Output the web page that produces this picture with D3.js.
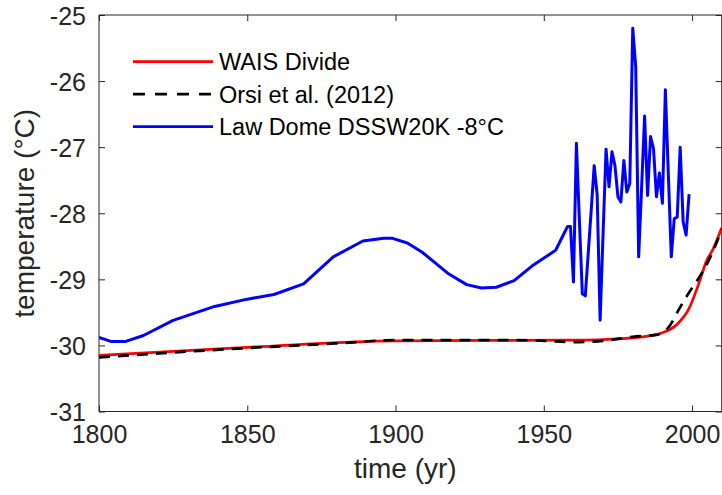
<!DOCTYPE html>
<html>
<head>
<meta charset="utf-8">
<script src="https://cdn.jsdelivr.net/npm/d3@7"></script>
<style>
  body { margin: 0; background: #fff; }
  svg { display: block; font-family: "Liberation Sans", Arial, sans-serif; }
</style>
</head>
<body>
<script>
// data
var xTicks = [1800, 1850, 1900, 1950, 2000];
var yTicks = [-31, -30, -29, -28, -27, -26, -25];
var seriesNames = ["WAIS Divide", "Orsi et al. (2012)", "Law Dome DSSW20K -8°C"];

var waisYear = [1800, 1850, 1900, 1960, 1975, 1985, 1990, 1995, 1999, 2002, 2005, 2007, 2010];
var waisTemp = [-30.15, -30.03, -29.93, -29.92, -29.9, -29.86, -29.81, -29.68, -29.44, -29.1, -28.71, -28.55, -28.22];

var orsiYear = [1800, 1850, 1880, 1900, 1920, 1940, 1950, 1960, 1970, 1980, 1988, 1992, 1996, 1999, 2002, 2006, 2010];
var orsiTemp = [-30.18, -30.04, -29.97, -29.92, -29.92, -29.92, -29.93, -29.95, -29.93, -29.87, -29.84, -29.73, -29.42, -29.2, -29.0, -28.68, -28.25];

var lawYear = [1800, 1804, 1809, 1815, 1825, 1839, 1850, 1859, 1869, 1879, 1889, 1896, 1899, 1904, 1909, 1918, 1924, 1929, 1934, 1940, 1946, 1954,
  1958, 1959, 1960, 1961, 1962, 1963, 1964, 1965, 1966, 1967, 1968, 1969, 1970, 1971, 1972, 1973, 1974, 1975, 1976, 1977, 1978, 1979,
  1980, 1981, 1982, 1983, 1984, 1985, 1986, 1987, 1988, 1989, 1990, 1991, 1992, 1993, 1994, 1995, 1996, 1997, 1998, 1999];
var lawTemp = [-29.88, -29.94, -29.94, -29.85, -29.62, -29.41, -29.3, -29.23, -29.07, -28.66, -28.42, -28.38, -28.38, -28.45, -28.59, -28.92, -29.08, -29.13, -29.12, -29.02, -28.8, -28.56,
  -28.2, -28.2, -29.04, -26.94, -28.1, -29.22, -29.25, -28.6, -27.95, -27.28, -27.72, -29.62, -28.3, -27.03, -27.6, -27.07, -27.28, -27.75, -27.83, -27.2, -27.68, -27.55,
  -25.2, -25.78, -28.66, -27.6, -26.53, -27.73, -26.84, -27.02, -27.75, -27.39, -27.85, -26.13, -27.4, -28.66, -28.08, -28.06, -27.0, -28.13, -28.33, -27.71];

var w = 722, h = 495;
var pLeft = 99, pRight = 721.7, pTop = 15, pBottom = 411.5;

var svg = d3.select("body").append("svg")
  .attr("width", w)
  .attr("height", h);

var x = d3.scaleLinear().domain([1800, 2010]).range([pLeft, pRight]);
var y = d3.scaleLinear().domain([-31, -25]).range([pBottom, pTop]);

var axisColor = "#262626";
var plainFormat = function(d){ return String(d); };

//軸
var xAxis = svg.append("g")
  .attr("transform", "translate(0," + pBottom + ")")
  .call(d3.axisBottom(x).tickValues(xTicks).tickSize(-6).tickPadding(14).tickFormat(plainFormat));
var xAxisTop = svg.append("g")
  .attr("transform", "translate(0," + pTop + ")")
  .call(d3.axisTop(x).tickValues(xTicks).tickSize(-6).tickFormat(""));
var yAxis = svg.append("g")
  .attr("transform", "translate(" + pLeft + ",0)")
  .call(d3.axisLeft(y).tickValues(yTicks).tickSize(-6).tickPadding(13).tickFormat(plainFormat));
var yAxisRight = svg.append("g")
  .attr("transform", "translate(" + pRight + ",0)")
  .call(d3.axisRight(y).tickValues(yTicks).tickSize(-6).tickFormat(""));

svg.selectAll(".domain").remove();
svg.selectAll(".tick line").attr("stroke", axisColor).attr("stroke-width", 1);
svg.selectAll(".tick text")
  .attr("fill", axisColor)
  .style("font-size", "25px")
  .style("font-family", "Liberation Sans, Arial, sans-serif");
yAxis.selectAll(".tick text").attr("dy", "0.36em");

svg.append("rect")
  .attr("x", pLeft).attr("y", pTop)
  .attr("width", pRight - pLeft).attr("height", pBottom - pTop)
  .attr("fill", "none")
  .attr("stroke", axisColor)
  .attr("stroke-width", 1);

//線
var line = d3.line()
  .x(function(d){ return x(d[0]); })
  .y(function(d){ return y(d[1]); });
var smoothLine = d3.line()
  .curve(d3.curveMonotoneX)
  .x(function(d){ return x(d[0]); })
  .y(function(d){ return y(d[1]); });

svg.append("clipPath").attr("id", "plotclip")
  .append("rect").attr("x", pLeft).attr("y", pTop)
  .attr("width", pRight - pLeft).attr("height", pBottom - pTop);

var plot = svg.append("g").attr("clip-path", "url(#plotclip)");

plot.append("path")
  .datum(d3.zip(waisYear, waisTemp))
  .attr("d", smoothLine)
  .attr("fill", "none")
  .attr("stroke", "#ff0000")
  .attr("stroke-width", 2.7);

plot.append("path")
  .datum(d3.zip(orsiYear, orsiTemp))
  .attr("d", smoothLine)
  .attr("fill", "none")
  .attr("stroke", "#000000")
  .attr("stroke-width", 2.7)
  .attr("stroke-dasharray", "11,8");

plot.append("path")
  .datum(d3.zip(lawYear, lawTemp))
  .attr("d", line)
  .attr("fill", "none")
  .attr("stroke", "#0000ff")
  .attr("stroke-width", 3)
  .attr("stroke-linejoin", "round");

//凡例
var legendColors = ["#ff0000", "#000000", "#0000ff"];
var legendDash = [null, "12,10", null];
var legend = svg.selectAll(".legend")
  .data(seriesNames)
  .enter()
  .append("g")
  .attr("class", "legend")
  .attr("transform", function(d, i){ return "translate(133," + (61.7 + i * 32.5) + ")"; });

legend.append("line")
  .attr("x1", 0).attr("x2", 80)
  .attr("y1", 0).attr("y2", 0)
  .attr("stroke", function(d, i){ return legendColors[i]; })
  .attr("stroke-width", 2.7)
  .attr("stroke-dasharray", function(d, i){ return legendDash[i]; });

legend.append("text")
  .attr("x", 86)
  .attr("y", 0)
  .attr("dy", "0.36em")
  .style("font-size", "23.5px")
  .attr("fill", "#000")
  .text(function(d){ return d; });

//軸ラベル
svg.append("text")
  .attr("x", (pLeft + pRight) / 2 - 5)
  .attr("y", 478)
  .attr("text-anchor", "middle")
  .attr("fill", axisColor)
  .style("font-size", "28px")
  .text("time (yr)");

svg.append("text")
  .attr("transform", "translate(34," + ((pTop + pBottom) / 2) + ") rotate(-90)")
  .attr("text-anchor", "middle")
  .attr("fill", axisColor)
  .style("font-size", "28px")
  .text("temperature (°C)");
</script>
</body>
</html>
